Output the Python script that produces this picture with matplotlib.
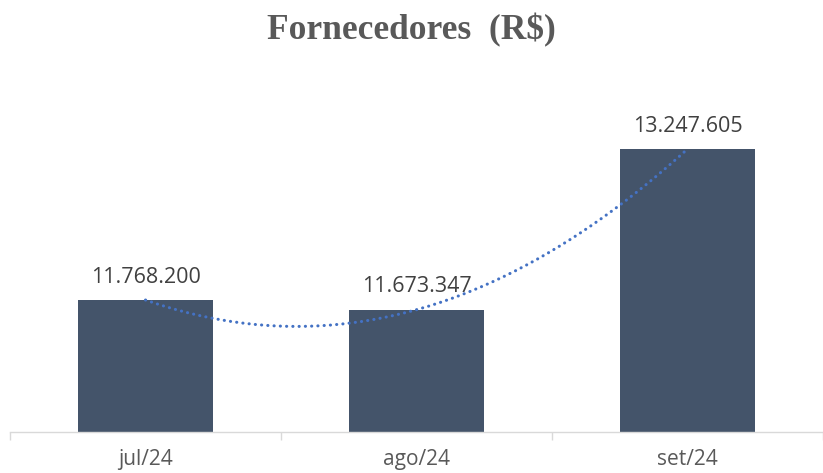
import numpy as np
import matplotlib
matplotlib.use("Agg")
import matplotlib.pyplot as plt

categories = ["jul/24", "ago/24", "set/24"]
values = [11768200, 11673347, 13247605]
labels = ["11.768.200", "11.673.347", "13.247.605"]

fig = plt.figure(figsize=(8.23, 4.73), dpi=100)
ax = fig.add_axes([10/823, 1 - 432/473, 813/823, (432 - 75)/473])

x = np.arange(len(categories))
ax.bar(x, values, width=0.495, color="#44546A", zorder=2)

# polynomial (order 2) trendline
coef = np.polyfit(x, values, 2)
xs = np.linspace(0, 2, 200)
ax.plot(xs, np.polyval(coef, xs), color="#4472C4", lw=2.2,
        linestyle=(0, (0.05, 2.0)), dash_capstyle="round", zorder=3)

for xi, v, lab in zip(x, values, labels):
    ax.annotate(lab, (xi, v), xytext=(0, 16.5), textcoords="offset points",
                ha="center", va="center", fontsize=15.5, color="#404040",
                family="Open Sans")

ax.set_xlim(-0.5, 2.5)
ax.set_ylim(10.475e6, 13.973e6)
ax.set_xticks(x)
ax.set_xticklabels(categories, fontsize=15, color="#595959", family="Open Sans")
ax.tick_params(axis="x", which="major", length=0, pad=12)
ax.set_xticks([-0.5, 0.5, 1.5, 2.5], minor=True)
ax.tick_params(axis="x", which="minor", length=6, width=1, color="#D9D9D9", direction="out")
ax.set_yticks([])
for s in ["top", "right", "left"]:
    ax.spines[s].set_visible(False)
ax.spines["bottom"].set_color("#D9D9D9")
ax.spines["bottom"].set_linewidth(1)

fig.text(0.5, 1 - 30/473, "Fornecedores  (R$)", ha="center", va="center",
         fontsize=25.5, fontweight="bold", color="#595959", family="Liberation Serif")

fig.savefig("out.png", dpi=100)
